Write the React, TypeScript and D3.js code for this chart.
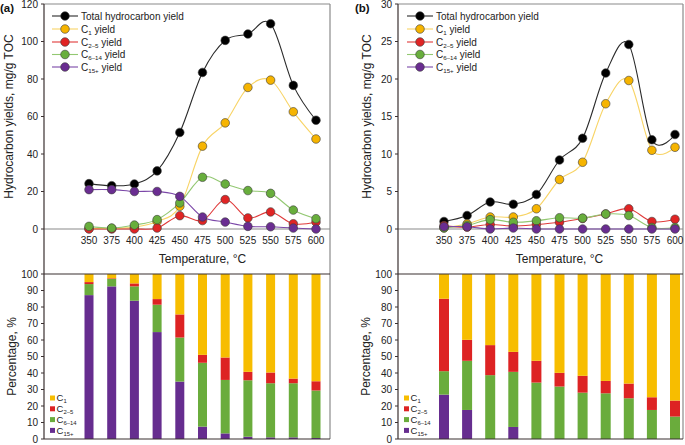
import React from "react";
import * as d3 from "d3";

const temps = [350, 375, 400, 425, 450, 475, 500, 525, 550, 575, 600];

// Panel (a) yields, mg/g TOC
const totalA = [24.2, 23.1, 24, 31, 51.5, 83.5, 100.6, 104, 109.5, 76.6, 58];
const c1A = [0.3, 0.3, 1, 4, 12.1, 44.2, 56.6, 75.5, 79.4, 62.5, 48];
const c25A = [0, 0, 0, 0.5, 7.1, 4.5, 15.7, 5.9, 9.1, 2.8, 3.7];
const c614A = [1.4, 0.5, 2.1, 5, 13.9, 27.6, 24, 20.5, 19, 10.1, 5.5];
const c15A = [21, 21, 20, 20, 17.4, 6.4, 3.7, 1.4, 1.2, 0.5, 0];

// Panel (b) yields, mg/g TOC
const totalB = [1.0, 1.8, 3.6, 3.3, 4.6, 9.2, 12.1, 20.8, 24.6, 11.9, 12.6];
const c1B = [0.15, 0.7, 1.6, 1.6, 2.7, 6.6, 8.9, 16.7, 19.8, 10.5, 10.9];
const c25B = [0.45, 0.25, 0.6, 0.4, 0.6, 0.9, 1.4, 2.0, 2.7, 1.0, 1.3];
const c614B = [0.15, 0.5, 1.25, 0.9, 1.1, 1.5, 1.45, 2.0, 1.8, 0.2, 0.2];
const c15B = [0.3, 0.3, 0, 0.13, 0, 0, 0, 0, 0, 0, 0];

// Percentages (a)
const pC15A = [87.2, 92.5, 83.8, 64.8, 34.8, 7.5, 3.4, 1.4, 1.0, 1.0, 0.6];
const pC614A = [6.7, 4.5, 8.7, 16.6, 26.7, 38.7, 32.4, 34.2, 32.8, 32.8, 28.8];
const pC25A = [1.2, 0.4, 1.8, 3.4, 14.0, 4.8, 13.6, 5.1, 6.5, 2.8, 5.6];
const pC1A = [4.9, 2.6, 5.7, 15.2, 24.5, 49.0, 50.6, 59.3, 59.7, 63.4, 65.0];

// Percentages (b)
const pC15B = [26.9, 17.6, 0, 7.3, 0, 0, 0, 0, 0, 0, 0];
const pC614B = [14.2, 29.8, 38.7, 33.4, 34.2, 31.8, 28.1, 27.7, 24.7, 17.6, 13.6];
const pC25B = [43.9, 12.7, 18.2, 12.1, 13.2, 8.3, 10.2, 7.5, 8.9, 7.7, 9.7];
const pC1B = [15.0, 39.9, 43.1, 47.2, 52.6, 59.9, 61.7, 64.8, 66.4, 74.7, 76.7];

const yTicksA = [0, 20, 40, 60, 80, 100, 120];
const yTicksB = [0, 5, 10, 15, 20, 25, 30];
const pctTicks = [0, 10, 20, 30, 40, 50, 60, 70, 80, 90, 100];

const FONT = "'Liberation Sans', Arial, sans-serif";

const seriesStyle = [
  { key: "total", line: "#2a2a2a", fill: "#000000", name: ["Total hydrocarbon yield"] },
  { key: "c1", line: "#f8d466", fill: "#f6b400", name: ["C", "1", " yield"] },
  { key: "c25", line: "#e03a3a", fill: "#e02424", name: ["C", "2\u20135", " yield"] },
  { key: "c614", line: "#93c872", fill: "#68ae3c", name: ["C", "6\u201314", " yield"] },
  { key: "c15", line: "#7b47a8", fill: "#6a2d91", name: ["C", "15+", " yield"] },
];

const barStyle = [
  { key: "c1", fill: "#f7bd00", name: "1" },
  { key: "c25", fill: "#dd2323", name: "2\u20135" },
  { key: "c614", fill: "#6aac3c", name: "6\u201314" },
  { key: "c15", fill: "#662d8f", name: "15+" },
];

function Sub({ parts, size }: { parts: string[]; size: number }) {
  if (parts.length === 1) return <>{parts[0]}</>;
  return (
    <>
      {parts[0]}
      <tspan fontSize={size * 0.62} dy={size * 0.22}>{parts[1]}</tspan>
      <tspan dy={-size * 0.22}>{parts[2]}</tspan>
    </>
  );
}

type PanelProps = {
  label: string;
  axisX: number;
  rightX: number;
  x350: number;
  x600: number;
  yMax: number;
  yTicks: number[];
  lines: number[][];
  pcts: { c1: number[]; c25: number[]; c614: number[]; c15: number[] };
  barW: number;
  labelX: number;
  titleX: number;
  pctTitleX: number;
  legX: number;
  barLegX: number;
};

function Panel(p: PanelProps) {
  const topY = 4;
  const zeroY = 229;
  const barTop = 274;
  const barBottom = 439;
  const x = d3.scaleLinear().domain([350, 600]).range([p.x350, p.x600]);
  const y = d3.scaleLinear().domain([0, p.yMax]).range([zeroY, topY]);
  const yp = d3.scaleLinear().domain([0, 100]).range([barBottom, barTop]);
  const line = d3
    .line<number>()
    .x((_, i) => x(temps[i]))
    .y((d) => y(d))
    .curve(d3.curveCardinal.tension(0));

  const table = temps.map((t, i) => ({
    t,
    c15: p.pcts.c15[i],
    c614: p.pcts.c614[i],
    c25: p.pcts.c25[i],
    c1: p.pcts.c1[i],
  }));
  const stack = d3.stack<any>().keys(["c15", "c614", "c25", "c1"])(table);
  const colorOf: Record<string, string> = {};
  barStyle.forEach((b) => (colorOf[b.key] = b.fill));

  const legRows = [16, 29, 42, 54.5, 67];
  const barLegRows = [398, 408.8, 419.6, 430.4];

  return (
    <g fontFamily={FONT}>
      <text x={p.labelX} y={12} fontSize={11.5} fontWeight="bold" fill="#111">
        {p.label}
      </text>

      {stack.map((layer) => (
        <g key={layer.key} fill={colorOf[layer.key]}>
          {layer.map((d, i) => (
            <rect
              key={i}
              x={x(temps[i]) - p.barW / 2}
              y={yp(d[1])}
              width={p.barW}
              height={Math.max(0, yp(d[0]) - yp(d[1]))}
            />
          ))}
        </g>
      ))}

      <line x1={p.axisX} x2={p.rightX} y1={topY} y2={topY} stroke="#8a8a8a" strokeWidth={1.2} />
      <line x1={p.rightX} x2={p.rightX} y1={topY} y2={barBottom} stroke="#8a8a8a" strokeWidth={1.2} />
      <line x1={p.axisX} x2={p.rightX} y1={zeroY} y2={zeroY} stroke="#8a8a8a" strokeWidth={1.2} />
      <line x1={p.axisX} x2={p.rightX} y1={barTop} y2={barTop} stroke="#3a3030" strokeWidth={1.2} />
      <line x1={p.axisX} x2={p.rightX} y1={barBottom} y2={barBottom} stroke="#3a3030" strokeWidth={1.2} />
      <line x1={p.axisX} x2={p.axisX} y1={topY} y2={barBottom} stroke="#3a3030" strokeWidth={1.2} />

      {p.yTicks.map((t) => (
        <g key={t}>
          <line x1={p.axisX - 3} x2={p.axisX} y1={y(t)} y2={y(t)} stroke="#3a3030" />
          <text x={p.axisX - 6} y={y(t)} dy="0.35em" textAnchor="end" fontSize={10} fill="#222">
            {t}
          </text>
        </g>
      ))}
      {pctTicks.map((t) => (
        <g key={t}>
          <line x1={p.axisX - 3} x2={p.axisX} y1={yp(t)} y2={yp(t)} stroke="#3a3030" />
          <text x={p.axisX - 6} y={yp(t)} dy="0.35em" textAnchor="end" fontSize={10} fill="#222">
            {t}
          </text>
        </g>
      ))}

      {temps.map((t) => (
        <text key={t} x={x(t)} y={240.5} dy="0.35em" textAnchor="middle" fontSize={10} fill="#222">
          {t}
        </text>
      ))}
      <text x={(x(350) + x(600)) / 2} y={259} dy="0.35em" textAnchor="middle" fontSize={12} fill="#222">
        Temperature, °C
      </text>

      <text
        transform={`translate(${p.titleX},${(topY + zeroY) / 2}) rotate(-90)`}
        textAnchor="middle"
        dy="0.35em"
        fontSize={12}
        fill="#222"
      >
        Hydrocarbon yields, mg/g TOC
      </text>
      <text
        transform={`translate(${p.pctTitleX},${(barTop + barBottom) / 2}) rotate(-90)`}
        textAnchor="middle"
        dy="0.35em"
        fontSize={12}
        fill="#222"
      >
        Percentage, %
      </text>

      {p.lines.map((vals, si) => (
        <path
          key={si}
          d={line(vals) || ""}
          fill="none"
          stroke={seriesStyle[si].line}
          strokeWidth={1.1}
        />
      ))}
      {p.lines.map((vals, si) => (
        <g key={"m" + si}>
          {vals.map((v, i) => (
            <circle
              key={i}
              cx={x(temps[i])}
              cy={y(v)}
              r={4.3}
              fill={seriesStyle[si].fill}
              stroke="#3a3a3a"
              strokeWidth={0.6}
            />
          ))}
        </g>
      ))}

      {seriesStyle.map((s, i) => (
        <g key={s.key}>
          <line x1={p.legX} x2={p.legX + 26} y1={legRows[i]} y2={legRows[i]} stroke={s.line} strokeWidth={1.1} />
          <circle cx={p.legX + 13} cy={legRows[i]} r={4.3} fill={s.fill} stroke="#3a3a3a" strokeWidth={0.6} />
          <text x={p.legX + 29} y={legRows[i]} dy="0.35em" fontSize={10} fill="#222">
            <Sub parts={s.name} size={10} />
          </text>
        </g>
      ))}

      {barStyle.map((b, i) => (
        <g key={b.key}>
          <rect x={p.barLegX} y={barLegRows[i] - 2.5} width={5} height={5} fill={b.fill} />
          <text x={p.barLegX + 6.5} y={barLegRows[i]} dy="0.35em" fontSize={9.5} fill="#222">
            <Sub parts={["C", b.name, ""]} size={9.5} />
          </text>
        </g>
      ))}
    </g>
  );
}

export default function App() {
  return (
    <svg
      width={685}
      height={445}
      style={{ position: "absolute", left: 0, top: 0, background: "#fff" }}
    >
      <Panel
        label="(a)"
        axisX={44}
        rightX={330}
        x350={89}
        x600={316}
        yMax={120}
        yTicks={yTicksA}
        lines={[totalA, c1A, c25A, c614A, c15A]}
        pcts={{ c1: pC1A, c25: pC25A, c614: pC614A, c15: pC15A }}
        barW={9}
        labelX={0}
        titleX={9}
        pctTitleX={12}
        legX={52}
        barLegX={50}
      />
      <Panel
        label="(b)"
        axisX={398}
        rightX={683}
        x350={444}
        x600={675}
        yMax={30}
        yTicks={yTicksB}
        lines={[totalB, c1B, c25B, c614B, c15B]}
        pcts={{ c1: pC1B, c25: pC25B, c614: pC614B, c15: pC15B }}
        barW={10}
        labelX={355}
        titleX={367}
        pctTitleX={366}
        legX={407}
        barLegX={404}
      />
    </svg>
  );
}
